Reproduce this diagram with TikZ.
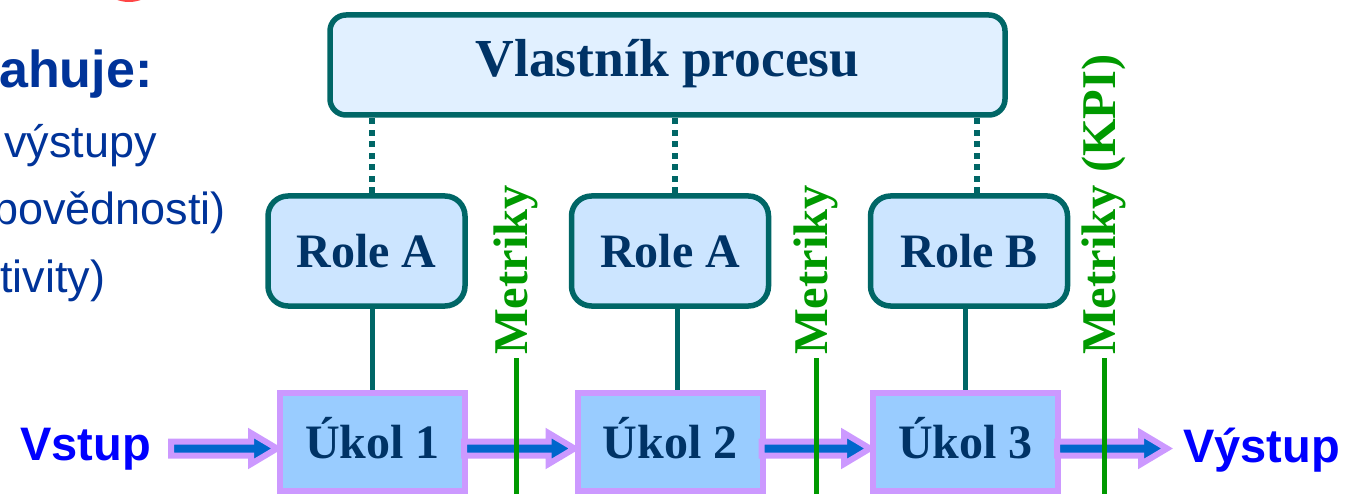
\documentclass[tikz,border=0pt]{standalone}
\usepackage{fontspec}
\setmainfont{Liberation Serif}
\newfontfamily\arialfont{Liberation Sans}
\usetikzlibrary{calc}

\definecolor{tealline}{RGB}{0,102,102}
\definecolor{ownerfill}{RGB}{225,240,255}
\definecolor{rolefill}{RGB}{204,229,255}
\definecolor{taskfill}{RGB}{153,204,255}
\definecolor{lilac}{RGB}{204,153,255}
\definecolor{flowblue}{RGB}{0,102,204}
\definecolor{navy}{RGB}{0,51,102}
\definecolor{metricgreen}{RGB}{0,153,0}
\definecolor{ioblue}{RGB}{0,0,255}
\definecolor{slideblue}{RGB}{0,51,153}
\definecolor{slidered}{RGB}{255,70,70}

% block arrow from a tail point to the x of a tip point
\newcommand\flowarrow[2]{%
  \path[flowarrow] let \p1=(#1), \p2=(#2) in
    (\x1,\y1) -- (\x2-26pt,\y1) -- (\x2-26pt,\y1+8.5pt) -- (\x2,\y1-7pt)
    -- (\x2-26pt,\y1-22.5pt) -- (\x2-26pt,\y1-14pt) -- (\x1,\y1-14pt) -- cycle;}

\begin{document}
\begin{tikzpicture}[x=1pt,y=-1pt,
  ownerbox/.style={draw=tealline, line width=5.5pt, fill=ownerfill,
    rounded corners=16pt, minimum width=675pt, minimum height=100pt,
    inner sep=0pt, text=navy, text height=35pt, text depth=11pt,
    font=\fontsize{53.5}{60}\selectfont\bfseries},
  rolebox/.style={draw=tealline, line width=5.5pt, fill=rolefill,
    rounded corners=20pt, minimum width=197pt, minimum height=110pt,
    inner sep=0pt, text=navy, text height=33pt, text depth=0pt,
    font=\fontsize{48}{56}\selectfont\bfseries},
  taskbox/.style={draw=lilac, line width=6pt, fill=taskfill,
    minimum width=185pt, minimum height=98pt,
    inner sep=0pt, text=navy, text height=33pt, text depth=0pt,
    font=\fontsize{48}{56}\selectfont\bfseries},
  ownerlink/.style={draw=tealline, line width=6pt, dash pattern=on 6pt off 5.5pt},
  rolelink/.style={draw=tealline, line width=5pt},
  flowarrow/.style={draw=lilac, fill=flowblue, line width=6pt, line join=miter},
  metric/.style={text=metricgreen, rotate=90, anchor=west,
    inner xsep=3pt, inner ysep=0pt,
    font=\fontsize{48.5}{56}\selectfont\bfseries},
  metricline/.style={draw=metricgreen, line width=5pt},
  iolabel/.style={text=ioblue, anchor=base west, inner sep=0pt,
    font=\arialfont\fontsize{47}{56}\selectfont\bfseries},
  slidetext/.style={text=slideblue, anchor=base west, inner sep=0pt,
    font=\arialfont\fontsize{45}{52}\selectfont},
]
\useasboundingbox (0,0) rectangle (1356,494);
\clip (0,0) rectangle (1356,494);

% text of the slide beside the diagram
\draw[slidered, line width=4pt] (129,-33) circle (33);
\node[slidetext, font=\arialfont\fontsize{52}{60}\selectfont\bfseries] (head) at (-1,88) {ahuje:};
\node[slidetext] (l1) at (4,158) {výstupy};
\node[slidetext] (l2) at (-7,225) {povědnosti)};
\node[slidetext] (l3) at (0,292) {tivity)};

% owner, roles and tasks
\node[ownerbox] (owner) at (667.5,65) {Vlastník procesu};
\node[rolebox] (r1) at (366.5,251) {Role A};
\node[rolebox] (r2) at (670,251) {Role A};
\node[rolebox] (r3) at (969,251) {Role B};
\node[taskbox] (t1) at (372.5,441.5) {Úkol 1};
\node[taskbox] (t2) at (670,441.5) {Úkol 2};
\node[taskbox] (t3) at (965.5,441.5) {Úkol 3};

% owner to roles
\draw[ownerlink] ([xshift=5.5pt]r1.north) -- ([xshift=5.5pt]r1.north |- owner.south);
\draw[ownerlink] ([xshift=5pt]r2.north) -- ([xshift=5pt]r2.north |- owner.south);
\draw[ownerlink] ([xshift=8pt]r3.north) -- ([xshift=8pt]r3.north |- owner.south);

% roles to tasks
\draw[rolelink] (t1.north) -- (t1.north |- r1.south);
\draw[rolelink] ([xshift=7pt]t2.north) -- ([xshift=7pt]t2.north |- r2.south);
\draw[rolelink] (t3.north) -- (t3.north |- r3.south);

% input, flow and output
\node[iolabel] (vin) at (20,460) {Vstup};
\node[iolabel] (vout) at (1183,462) {Výstup};
\coordinate (in) at (171,441.5);
\coordinate (out) at (1167,441.5);
\flowarrow{in}{t1.west}
\flowarrow{[xshift=-4pt]t1.east}{t2.west}
\flowarrow{[xshift=-4pt]t2.east}{t3.west}
\flowarrow{[xshift=-4pt]t3.east}{out}

% metrics
\node[metric] (m1) at (516,358) {Metriky};
\node[metric] (m2) at (816,358) {Metriky};
\node[metric] (m3) at (1104,358) {Metriky (KPI)};
\draw[metricline] (m1.west) -- (m1.west |- t1.south);
\draw[metricline] (m2.west) -- (m2.west |- t2.south);
\draw[metricline] (m3.west) -- (m3.west |- t3.south);
\end{tikzpicture}
\end{document}
